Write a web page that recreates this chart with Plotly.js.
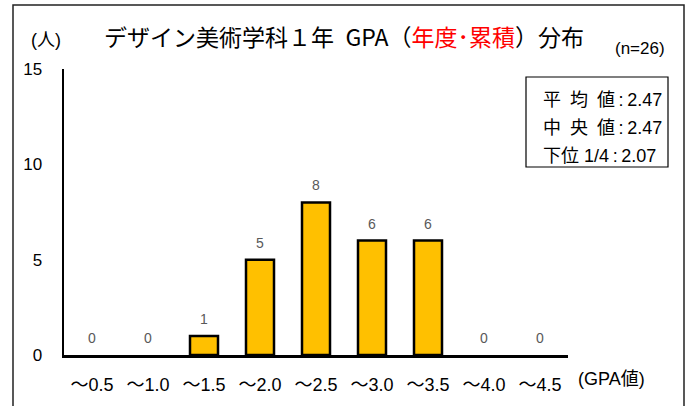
<!DOCTYPE html>
<html><head><meta charset="utf-8">
<script src="https://cdn.plot.ly/plotly-3.0.1.min.js"></script>
<style>html,body{margin:0;padding:0;background:#fff;}#chart{width:691px;height:406px;}</style>
</head><body><div id="chart"></div>
<script>
const categories = ["～0.5","～1.0","～1.5","～2.0","～2.5","～3.0","～3.5","～4.0","～4.5"];
const counts = [0,0,1,5,8,6,6,0,0];
const statLabels = ["平\u2002均\u2002値\u2009:\u20092.47","中\u2002央\u2002値\u2009:\u20092.47","下位 1/4\u2009:\u20092.07"];
const yTicks = [0,5,10,15];

const FONT = "'Liberation Sans Narrow', 'Liberation Sans', 'Noto Sans CJK JP', sans-serif";
const JP = "'Noto Sans CJK JP', sans-serif";

const L=64, R=568, T=69, B=355, W=691, H=406;
const px = x => (x - L)/(R - L);
const py = y => (B - y)/(B - T);

const ann = counts.map((v,i)=>({
  x:i, y:v, xref:'x', yref:'y', text:String(v), showarrow:false,
  yshift:17, font:{family:FONT,size:14,color:'#595959'}
}));
statLabels.forEach((s,i)=>{
  ann.push({xref:'paper',yref:'paper',x:px(541),y:py(100+28*i),xanchor:'left',yanchor:'middle',
    text:s,showarrow:false,font:{family:FONT,size:18,color:'#000'}});
});
ann.push({xref:'paper',yref:'paper',x:px(46),y:py(40),xanchor:'center',yanchor:'middle',text:'(人)',showarrow:false,font:{family:FONT,size:18,color:'#000'}});
ann.push({xref:'paper',yref:'paper',x:px(640),y:py(48),xanchor:'center',yanchor:'middle',text:'(n=26)',showarrow:false,font:{family:FONT,size:17,color:'#000'}});
ann.push({xref:'paper',yref:'paper',x:px(611),y:py(379),xanchor:'center',yanchor:'middle',text:'(GPA値)',showarrow:false,font:{family:FONT,size:18,color:'#000'}});

const data=[{
  type:'bar', x:categories.map((c,i)=>i), y:counts, width:0.5,
  marker:{color:'#FFC000',line:{color:'#000',width:counts.map(v=>v>0?2.5:0)}},
  hoverinfo:'none'
}];

const layout={
  width:W,height:H,
  margin:{l:L,r:W-R,t:T,b:H-B,pad:0},
  paper_bgcolor:'#fff',plot_bgcolor:'#fff',
  showlegend:false,
  title:{text:'デザイン美術学科１年\u2002GPA（<span style="color:#FF0000">年度･累積</span>）分布',
    x:344/W,xref:'container',xanchor:'center',y:1-38/H,yref:'container',yanchor:'middle',
    font:{family:JP,size:23,color:'#000'}},
  xaxis:{range:[-0.5,8.5],tickmode:'array',tickvals:categories.map((c,i)=>i),ticktext:categories,
    showgrid:false,zeroline:false,showline:true,linecolor:'#000',linewidth:2.5,ticks:'',
    ticklabelstandoff:12,tickfont:{family:FONT,size:18,color:'#000'},fixedrange:true},
  yaxis:{range:[0,15],tickmode:'array',tickvals:yTicks,showgrid:false,zeroline:false,
    showline:true,linecolor:'#000',linewidth:2.5,ticks:'',ticklabelstandoff:16,
    tickfont:{family:FONT,size:17,color:'#000'},fixedrange:true},
  shapes:[
    {type:'rect',xref:'paper',yref:'paper',x0:px(13),x1:px(684),y0:py(420),y1:py(5),line:{color:'#222',width:1.5},fillcolor:'rgba(0,0,0,0)'},
    {type:'rect',xref:'paper',yref:'paper',x0:px(526),x1:px(668),y0:py(167),y1:py(77),line:{color:'#000',width:1.2},fillcolor:'#fff',layer:'below'}
  ],
  annotations:ann
};
Plotly.newPlot('chart',data,layout,{displayModeBar:false,staticPlot:true});
</script></body></html>
